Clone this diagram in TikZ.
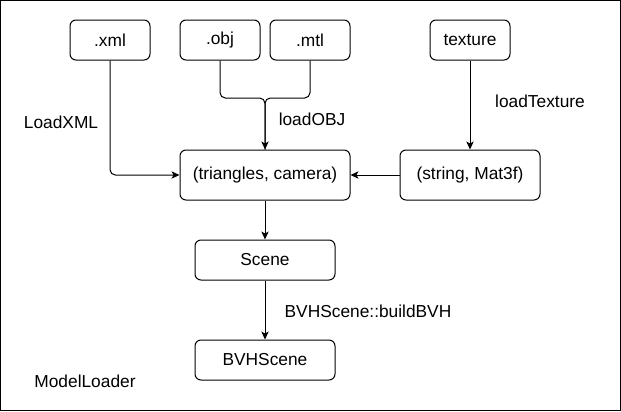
\documentclass[tikz,border=0pt]{standalone}
\usepackage{fontspec}
\setmainfont{Liberation Sans}
\usetikzlibrary{arrows.meta}

\begin{document}
\begin{tikzpicture}[x=0.75pt, y=-0.75pt, line width=0.75pt,
  box/.style={draw, rounded corners=4.5pt, minimum width=60pt, minimum height=30pt,
    inner sep=0pt, font=\fontsize{13}{15}\selectfont},
  lbl/.style={font=\fontsize{13}{15}\selectfont, inner sep=0pt},
  arr/.style={-{Stealth[length=6pt, width=5.5pt, inset=1.5pt]}, rounded corners=4pt}]
  \useasboundingbox (0,0) rectangle (621,411);
  \draw (0.5,0.5) rectangle (620.5,410.5);
  % input files
  \node[box] (xml) at (110,40) {.xml};
  \node[box] (obj) at (220,40) {.obj};
  \node[box] (mtl) at (310,40) {.mtl};
  \node[box] (tex) at (470,40) {texture};
  % loaded data
  \node[box, minimum width=127.5pt, minimum height=37.5pt] (tri) at (265,175) {(triangles, camera)};
  \node[box, minimum width=105pt, minimum height=37.5pt] (str) at (470,175) {(string, Mat3f)};
  \node[box, minimum width=105pt] (scene) at (265,260) {Scene};
  \node[box, minimum width=105pt] (bvh) at (265,360) {BVHScene};
  \coordinate (junc) at (265,98);
  % edges
  \draw[arr] (xml.south) |- (tri.west);
  \draw[rounded corners=4pt] (mtl.south) |- (junc) -- (tri.north);
  \draw[arr] (obj.south) |- (junc) -- (tri.north);
  \draw[arr] (tex.south) -- (str.north);
  \draw[arr] (str.west) -- (tri.east);
  \draw[arr] (tri.south) -- (scene.north);
  \draw[arr] (scene.south) -- (bvh.north);
  % labels
  \node[lbl] (lxml) at (61,122) {LoadXML};
  \node[lbl] (lobj) at (312,119) {loadOBJ};
  \node[lbl] (ltex) at (540,101) {loadTexture};
  \node[lbl] (lbvh) at (368,311) {BVHScene::buildBVH};
  \node[lbl] (lml) at (85,381) {ModelLoader};
\end{tikzpicture}
\end{document}
